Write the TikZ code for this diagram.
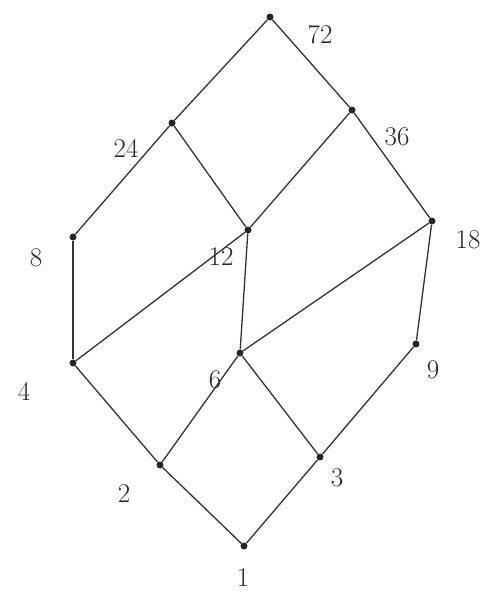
\documentclass[tikz,border=0pt]{standalone}
\begin{document}
\begin{tikzpicture}[x=1pt,y=-1pt,
  vtx/.style={circle,fill=black!85,inner sep=0pt,minimum size=7pt},
  lbl/.style={font=\fontsize{27}{30}\selectfont,text=black!85,inner sep=0pt},
  edge/.style={draw=black!80,line width=1.3pt}]
\useasboundingbox[fill=white] (0,0) rectangle (492,597);
\node[vtx] (n72) at (270,17) {};
\node[vtx] (n24) at (172,123) {};
\node[vtx] (n36) at (352,110) {};
\node[vtx] (n8) at (73,237) {};
\node[vtx] (n12) at (248,230) {};
\node[vtx] (n18) at (432,221) {};
\node[vtx] (n4) at (73,363) {};
\node[vtx] (n6) at (240,353) {};
\node[vtx] (n9) at (416,344) {};
\node[vtx] (n2) at (160,465) {};
\node[vtx] (n3) at (320,457) {};
\node[vtx] (n1) at (244,546) {};
\node[lbl] (l72) at (320,35) {72};
\node[lbl] (l24) at (126,148) {24};
\node[lbl] (l36) at (397,137) {36};
\node[lbl] (l8) at (36,258) {8};
\node[lbl] (l12) at (221,257) {12};
\node[lbl] (l18) at (468,240) {18};
\node[lbl] (l4) at (24,391) {4};
\node[lbl] (l6) at (215,380) {6};
\node[lbl] (l9) at (433,370) {9};
\node[lbl] (l2) at (124,494) {2};
\node[lbl] (l3) at (337,478) {3};
\node[lbl] (l1) at (243,578) {1};
\draw[edge] (n72) -- (n24);
\draw[edge] (n72) -- (n36);
\draw[edge] (n24) -- (n8);
\draw[edge] (n24) -- (n12);
\draw[edge] (n36) -- (n12);
\draw[edge] (n36) -- (n18);
\draw[edge] (n8) -- (n4);
\draw[edge] (n12) -- (n4);
\draw[edge] (n12) -- (n6);
\draw[edge] (n18) -- (n6);
\draw[edge] (n18) -- (n9);
\draw[edge] (n4) -- (n2);
\draw[edge] (n6) -- (n2);
\draw[edge] (n6) -- (n3);
\draw[edge] (n9) -- (n3);
\draw[edge] (n2) -- (n1);
\draw[edge] (n3) -- (n1);
\end{tikzpicture}
\end{document}
